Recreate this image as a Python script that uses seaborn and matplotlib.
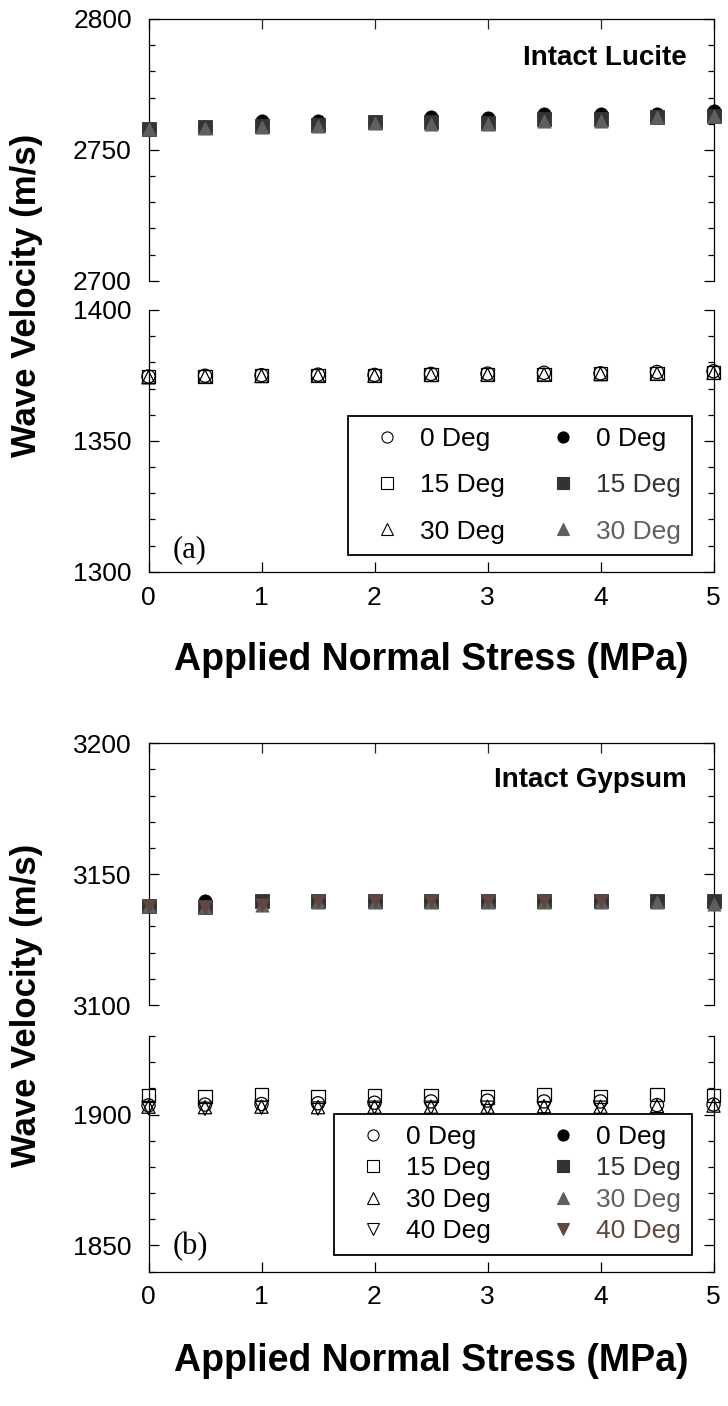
import numpy as np
import pandas as pd
import matplotlib
matplotlib.use("Agg")
import matplotlib.pyplot as plt
import seaborn as sns
from matplotlib.lines import Line2D
from matplotlib.ticker import MultipleLocator

# ---------------- data ----------------
stress = [0, 0.5, 1, 1.5, 2, 2.5, 3, 3.5, 4, 4.5, 5]

# Intact Lucite - filled symbols (upper range)
lucite_top_0 = [2758.0, 2758.6, 2760.9, 2760.9, 2760.8, 2762.5, 2762.3, 2763.8, 2763.8, 2763.8, 2765.0]
lucite_top_15 = [2758.0, 2758.6, 2759.0, 2759.6, 2760.6, 2760.6, 2760.4, 2761.6, 2761.6, 2762.4, 2763.1]
lucite_top_30 = [2758.0, 2758.4, 2758.8, 2759.3, 2760.3, 2759.8, 2759.8, 2761.0, 2760.9, 2762.4, 2763.0]
# Intact Lucite - open symbols (lower range)
lucite_bot_0 = [1374.6, 1374.9, 1375.1, 1375.3, 1375.2, 1375.6, 1375.7, 1376.0, 1375.8, 1376.3, 1376.6]
lucite_bot_15 = [1374.5, 1374.7, 1374.9, 1375.0, 1375.0, 1375.3, 1375.4, 1375.5, 1375.6, 1375.8, 1376.1]
lucite_bot_30 = [1374.3, 1374.6, 1374.8, 1375.0, 1374.9, 1375.2, 1375.3, 1375.4, 1375.5, 1375.7, 1376.0]

# Intact Gypsum - filled symbols (upper range)
gypsum_top_0 = [3138.0, 3139.7, 3139.6, 3139.7, 3139.7, 3139.7, 3139.7, 3139.7, 3139.7, 3139.6, 3139.5]
gypsum_top_15 = [3137.8, 3137.6, 3139.6, 3139.6, 3139.6, 3139.6, 3139.6, 3139.6, 3139.6, 3139.6, 3139.6]
gypsum_top_30 = [3137.8, 3137.5, 3138.2, 3139.5, 3139.5, 3139.5, 3139.5, 3139.5, 3139.5, 3139.4, 3138.5]
gypsum_top_40 = [3137.8, 3137.5, 3138.3, 3139.6, 3139.6, 3139.6, 3139.6, 3139.6, 3139.6, np.nan, np.nan]
# Intact Gypsum - open symbols (lower range)
gypsum_bot_0 = [1903.5, 1903.8, 1904.0, 1904.3, 1904.5, 1905.0, 1905.3, 1905.0, 1905.0, 1903.6, 1903.8]
gypsum_bot_15 = [1907.2, 1907.0, 1907.7, 1907.0, 1907.2, 1907.2, 1906.7, 1907.6, 1907.0, 1907.7, 1907.4]
gypsum_bot_30 = [1903.0, 1902.8, 1903.0, 1902.8, 1903.0, 1903.0, 1903.0, 1903.2, 1903.0, 1903.3, 1903.4]
gypsum_bot_40 = [1902.5, 1902.2, 1902.6, 1902.3, 1902.6, 1902.6, 1902.6, 1902.2, 1902.6, np.nan, np.nan]

angle_labels = ["0 Deg", "15 Deg", "30 Deg", "40 Deg"]
markers = ["o", "s", "^", "v"]
fill_colors = ["#000000", "#333333", "#5f5f5f", "#604840"]

yl_a_top = (2700, 2800)
yl_a_bot = (1300, 1400)
yl_b_top = (3100, 3200)
yl_b_bot = (1840, 1930)

# ---------------- figure ----------------
sns.set_theme(style="ticks")
plt.rcParams['font.family'] = ['Liberation Sans', 'DejaVu Sans']

W, H = 728, 1406
fig = plt.figure(figsize=(W / 100, H / 100), dpi=100)
fig.patch.set_facecolor("white")

XL, XR = 148.5, 713.5


def rect(top_px, bot_px):
    return [XL / W, 1 - bot_px / H, (XR - XL) / W, (bot_px - top_px) / H]


a_top = fig.add_axes(rect(19, 280.7))
a_bot = fig.add_axes(rect(310, 571.7))
b_top = fig.add_axes(rect(743.3, 1005))
b_bot = fig.add_axes(rect(1036, 1271.5))

TICK_FS = 19


def style(ax, ylim, part):
    ax.set_facecolor("white")
    ax.set_xlim(0, 5)
    ax.set_ylim(*ylim)
    ax.xaxis.set_major_locator(MultipleLocator(1))
    ax.yaxis.set_major_locator(MultipleLocator(50))
    ax.yaxis.set_minor_locator(MultipleLocator(10))
    for sp in ax.spines.values():
        sp.set_linewidth(0.9)
        sp.set_color("black")
    ax.tick_params(axis="y", which="both", direction="in", left=True, right=True,
                   labelsize=TICK_FS, pad=12, colors="black")
    ax.tick_params(axis="y", which="major", length=7, width=0.9)
    ax.tick_params(axis="y", which="minor", length=4, width=0.9)
    if part == "top":
        ax.spines["bottom"].set_visible(False)
        ax.tick_params(axis="x", which="both", direction="in", top=True, bottom=False,
                       labeltop=False, labelbottom=False, length=7, width=0.9)
    else:
        ax.spines["top"].set_visible(False)
        ax.tick_params(axis="x", which="both", direction="in", top=False, bottom=True,
                       labelbottom=True, labelsize=TICK_FS, pad=10, length=7, width=0.9,
                       colors="black")
    ax.set_xlabel("")
    ax.set_ylabel("")


def draw(ax, series, filled):
    for i, vals in enumerate(series):
        df = pd.DataFrame({"stress": stress, "v": vals}).dropna()
        if filled:
            sns.scatterplot(data=df, x="stress", y="v", ax=ax, marker=markers[i], s=90,
                            color=fill_colors[i], edgecolor=fill_colors[i], linewidth=0.6,
                            clip_on=False, zorder=3 + i, legend=False)
        else:
            sns.scatterplot(data=df, x="stress", y="v", ax=ax, marker=markers[i], s=90,
                            color="none", edgecolor="black", linewidth=0.9,
                            clip_on=False, zorder=3 + i, legend=False)


draw(a_top, [lucite_top_0, lucite_top_15, lucite_top_30], True)
draw(a_bot, [lucite_bot_0, lucite_bot_15, lucite_bot_30], False)
draw(b_top, [gypsum_top_0, gypsum_top_15, gypsum_top_30, gypsum_top_40], True)
draw(b_bot, [gypsum_bot_0, gypsum_bot_15, gypsum_bot_30, gypsum_bot_40], False)

style(a_top, yl_a_top, "top")
style(a_bot, yl_a_bot, "bottom")
style(b_top, yl_b_top, "top")
style(b_bot, yl_b_bot, "bottom")


def make_legend(ax, n, anchor, labelspacing, colspacing):
    handles = []
    for i in range(n):
        handles.append(Line2D([], [], ls="none", marker=markers[i], ms=8, mfc="white",
                              mec="black", mew=0.8, label=angle_labels[i]))
    for i in range(n):
        handles.append(Line2D([], [], ls="none", marker=markers[i], ms=8, mfc=fill_colors[i],
                              mec=fill_colors[i], mew=0.8, label=angle_labels[i]))
    leg = ax.legend(handles=handles, ncol=2, loc="lower left", bbox_to_anchor=anchor,
                    borderaxespad=0, fontsize=TICK_FS, frameon=True, fancybox=False,
                    framealpha=1, edgecolor="black", borderpad=0.43, labelspacing=labelspacing,
                    handlelength=2.1, handletextpad=0.2, columnspacing=colspacing)
    leg.get_frame().set_linewidth(1.3)
    texts = leg.get_texts()
    for i in range(n):
        texts[i].set_color("black")
        texts[n + i].set_color(fill_colors[i])
    leg.set_zorder(10)
    return leg


make_legend(a_bot, 3, (0.353, 0.064), 0.84, 1.15)
make_legend(b_bot, 4, (0.329, 0.072), 0.28, 1.65)

a_top.text(0.953, 0.85, "Intact Lucite", transform=a_top.transAxes, ha="right", va="center",
           fontsize=20, fontweight="bold", color="black")
b_top.text(0.953, 0.86, "Intact Gypsum", transform=b_top.transAxes, ha="right", va="center",
           fontsize=20, fontweight="bold", color="black")

a_bot.text(0.042, 0.03, "(a)", transform=a_bot.transAxes, ha="left", va="bottom",
           fontsize=22, family=["Liberation Serif", "DejaVu Serif"], color="black")
b_bot.text(0.042, 0.045, "(b)", transform=b_bot.transAxes, ha="left", va="bottom",
           fontsize=22, family=["Liberation Serif", "DejaVu Serif"], color="black")

YLAB_FS = 25
XLAB_FS = 27
fig.text(27 / W, 1 - 295 / H, "Wave Velocity (m/s)", rotation=90, ha="center", va="center",
         fontsize=YLAB_FS, fontweight="bold", color="black")
fig.text(27 / W, 1 - 1005 / H, "Wave Velocity (m/s)", rotation=90, ha="center", va="center",
         fontsize=YLAB_FS, fontweight="bold", color="black")
fig.text((XL + XR) / 2 / W, 1 - 660 / H, "Applied Normal Stress (MPa)", ha="center",
         va="center", fontsize=XLAB_FS, fontweight="bold", color="black")
fig.text((XL + XR) / 2 / W, 1 - 1361 / H, "Applied Normal Stress (MPa)", ha="center",
         va="center", fontsize=XLAB_FS, fontweight="bold", color="black")

fig.savefig("out.png", dpi=100, facecolor="white")
